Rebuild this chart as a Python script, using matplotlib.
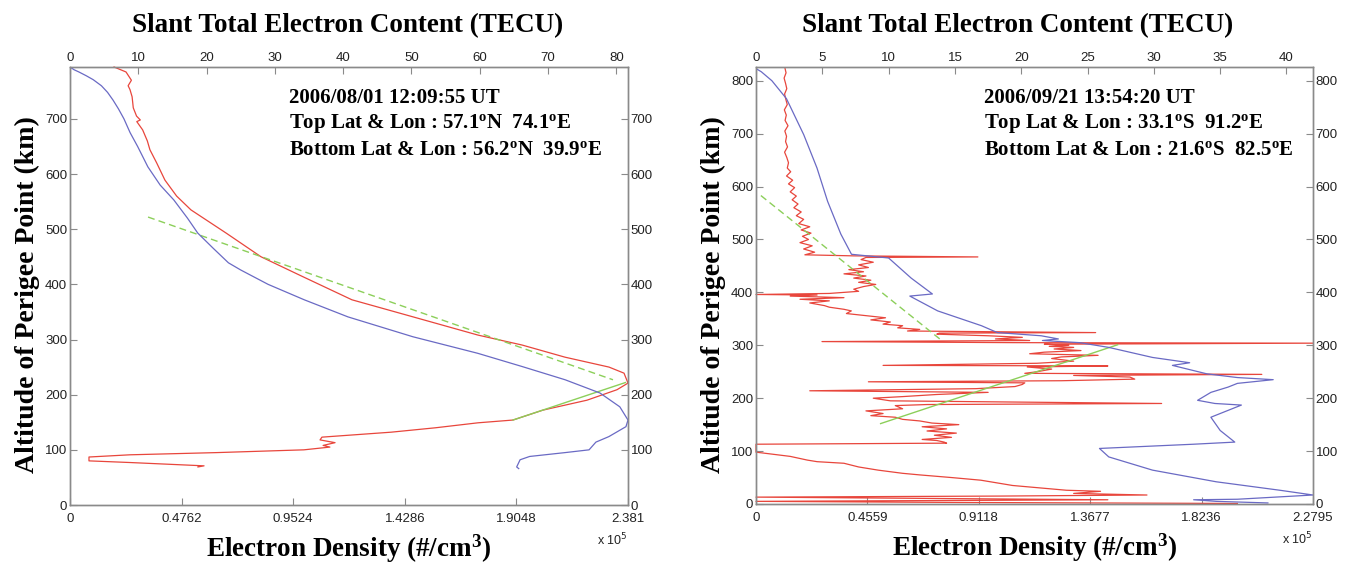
import numpy as np
import matplotlib
matplotlib.use('Agg')
import matplotlib.pyplot as plt

# ---- 2006/08/01 occultation ----
alt_tec_a = [794, 789, 785, 778, 771, 760, 748, 734, 718, 700, 675, 650, 613, 580, 553, 520, 493, 465, 439, 426,
             400, 372, 341, 305, 275, 251, 227, 203, 178, 154, 142, 124, 114, 100, 95, 88, 82, 69, 66]
tec_a = [0.0, 0.6, 1.3, 2.4, 3.4, 4.6, 5.5, 6.3, 7.1, 7.9, 8.8, 9.9, 11.4, 13.2, 15.2, 17.2, 18.7, 21.0, 23.2,
         25.0, 29.0, 34.3, 40.7, 50.2, 59.7, 66.2, 72.5, 77.6, 80.5, 81.7, 81.4, 78.9, 77.0, 76.0, 72.5, 67.3,
         65.9, 65.4, 65.7]

alt_ne_a = [794, 785, 770, 760, 753, 740, 720, 705, 698, 695, 680, 660, 644, 620, 589, 560, 535, 493, 450, 413,
            372, 341, 308, 290, 268, 250, 239, 221, 209, 190, 172, 154, 149, 140, 132, 123, 118, 113, 108, 105,
            100, 95, 91, 87, 80, 77, 71, 69]
ne_a = [0.188, 0.239, 0.262, 0.248, 0.256, 0.265, 0.270, 0.284, 0.300, 0.285, 0.310, 0.330, 0.341, 0.370, 0.405,
        0.455, 0.516, 0.666, 0.815, 0.998, 1.203, 1.464, 1.741, 1.929, 2.112, 2.300, 2.364, 2.381, 2.334, 2.206,
        2.018, 1.890, 1.741, 1.560, 1.370, 1.075, 1.067, 1.131, 1.080, 1.109, 0.998, 0.627, 0.256, 0.081, 0.081,
        0.256, 0.572, 0.546]

fit_top_a = ([0.333, 2.317], [522, 227])
fit_bot_a = ([1.890, 2.370], [154, 222])

# ---- 2006/09/21 occultation ----
alt_tec_b = [823, 817, 800, 766, 698, 635, 572, 510, 472, 465, 427, 397, 393, 365, 337, 324, 318, 312, 309, 305,
             296, 277, 267, 262, 246, 239, 235, 228, 221, 211, 196, 190, 187, 177, 164, 139, 117, 113, 105, 89,
             64, 42, 26, 17, 9, 8, 5, 2]
tec_b = [0.0, 0.4, 1.2, 2.3, 3.6, 4.6, 5.4, 6.4, 7.2, 10.0, 11.7, 13.3, 11.6, 13.7, 17.0, 18.2, 21.5, 22.8, 21.6,
         24.4, 26.6, 29.9, 32.7, 31.4, 34.0, 36.3, 39.0, 36.3, 35.6, 34.3, 33.3, 34.6, 36.6, 35.6, 34.3, 35.0,
         36.1, 33.0, 25.9, 26.6, 29.9, 34.7, 39.5, 42.0, 36.3, 33.0, 34.7, 38.6]

alt_ne_b = [823, 815, 805, 795, 785, 775, 765, 755, 745, 735, 725, 715, 705, 695, 685, 675, 665, 655, 645, 635,
            628, 620, 612, 605, 598, 590, 582, 575, 567, 560, 552, 545, 538, 530, 524, 518, 512, 506, 500, 494,
            488, 482, 476, 471, 469, 467, 466, 462, 457, 452, 447, 443, 439, 435, 431, 427, 423, 419, 415, 411,
            406, 402, 398, 396, 395, 393, 390, 387, 384, 380, 375, 372, 368, 365, 360, 356, 352, 348, 344, 340,
            337, 333, 330, 327, 324, 323, 321, 318, 315, 312, 309, 307, 305, 304, 302, 300, 298, 296, 293, 290,
            287, 284, 281, 278, 275, 270, 266, 262, 261, 259, 255, 250, 247, 245, 243, 240, 236, 233, 231, 229,
            226, 222, 218, 214, 211, 207, 203, 200, 195, 190, 188, 186, 180, 176, 171, 167, 164, 160, 157, 153,
            150, 146, 142, 138, 134, 130, 126, 122, 120, 117, 115, 113, 98, 90, 83, 80, 77, 70, 64, 58,
            55, 50, 45, 35, 28, 26, 24, 20, 17, 15, 13, 10, 8, 6, 5, 3, 1]
ne_b = [0.119, 0.123, 0.115, 0.121, 0.126, 0.117, 0.122, 0.128, 0.116, 0.124, 0.119, 0.131, 0.118, 0.125, 0.121,
        0.129, 0.117, 0.126, 0.133, 0.128, 0.142, 0.125, 0.150, 0.133, 0.158, 0.140, 0.165, 0.148, 0.172, 0.155,
        0.185, 0.165, 0.195, 0.175, 0.220, 0.185, 0.225, 0.190, 0.215, 0.180, 0.230, 0.195, 0.240, 0.200, 0.400,
        0.908, 0.450, 0.430, 0.480, 0.420, 0.460, 0.380, 0.440, 0.360, 0.450, 0.400, 0.470, 0.420, 0.490, 0.440,
        0.400, 0.420, 0.300, 0.000, 0.250, 0.140, 0.360, 0.180, 0.300, 0.220, 0.280, 0.300, 0.360, 0.390, 0.370,
        0.450, 0.530, 0.470, 0.550, 0.520, 0.600, 0.580, 0.670, 0.620, 1.390, 0.750, 0.740, 0.950, 1.090, 0.980,
        1.120, 0.270, 1.050, 2.280, 1.180, 1.280, 1.200, 1.300, 1.220, 1.330, 1.180, 1.120, 1.400, 1.250, 1.210,
        1.300, 1.150, 0.520, 1.440, 1.110, 1.210, 1.150, 1.100, 2.070, 1.300, 1.530, 1.550, 1.250, 0.460, 1.100,
        1.090, 1.060, 0.900, 0.220, 0.950, 0.740, 0.600, 0.480, 0.550, 1.660, 0.700, 0.570, 0.600, 0.450, 0.520,
        0.470, 0.570, 0.600, 0.670, 0.720, 0.830, 0.680, 0.780, 0.700, 0.820, 0.730, 0.800, 0.680, 0.740, 0.770,
        0.780, 0.000, 0.000, 0.140, 0.210, 0.250, 0.360, 0.420, 0.500, 0.600, 0.670, 0.800, 0.920, 1.050, 1.220,
        1.270, 1.410, 1.300, 1.600, 1.000, 0.000, 0.900, 1.440, 0.500, 0.000, 0.800, 1.970]

fit_top_b = ([0.02, 0.76], [583, 309])
fit_bot_b = ([0.51, 1.48], [152, 301])

panels = [
    dict(alt_tec=alt_tec_a, tec=tec_a, alt_ne=alt_ne_a, ne=ne_a, fit_top=fit_top_a, fit_bot=fit_bot_a,
         ne_max=2.381, tec_max=81.7, alt_max=794, yticks=[0, 100, 200, 300, 400, 500, 600, 700],
         tec_ticks=[0, 10, 20, 30, 40, 50, 60, 70, 80],
         lines=['2006/08/01 12:09:55 UT',
                r'Top Lat & Lon : 57.1$^{\mathrm{o}}$N  74.1$^{\mathrm{o}}$E',
                r'Bottom Lat & Lon : 56.2$^{\mathrm{o}}$N  39.9$^{\mathrm{o}}$E'],
         pos=[70, 67, 628, 505], text_x=289, title_x=0.497),
    dict(alt_tec=alt_tec_b, tec=tec_b, alt_ne=alt_ne_b, ne=ne_b, fit_top=fit_top_b, fit_bot=fit_bot_b,
         ne_max=2.2795, tec_max=42.0, alt_max=826, yticks=[0, 100, 200, 300, 400, 500, 600, 700, 800],
         tec_ticks=[0, 5, 10, 15, 20, 25, 30, 35, 40],
         lines=['2006/09/21 13:54:20 UT',
                r'Top Lat & Lon : 33.1$^{\mathrm{o}}$S  91.2$^{\mathrm{o}}$E',
                r'Bottom Lat & Lon : 21.6$^{\mathrm{o}}$S  82.5$^{\mathrm{o}}$E'],
         pos=[756, 67, 1313, 504], text_x=984, title_x=0.47),
]

W, H = 1349, 565
BLUE = '#6a6ac4'
RED = '#e8463c'
GREEN = '#8ccf5a'
FRAME = '#8a8a8a'
SERIF = 'Liberation Serif'
SANS = 'Liberation Sans'


def main():
    plt.rcParams['font.family'] = SANS
    plt.rcParams['mathtext.fontset'] = 'custom'
    plt.rcParams['mathtext.rm'] = SERIF + ':bold'
    plt.rcParams['mathtext.it'] = SERIF + ':bold'
    plt.rcParams['mathtext.bf'] = SERIF + ':bold'

    fig = plt.figure(figsize=(W / 100, H / 100), dpi=100)

    for p in panels:
        x0, y0, x1, y1 = p['pos']
        hgt = y1 - y0
        ax = fig.add_axes([x0 / W, 1 - y1 / H, (x1 - x0) / W, hgt / H])
        ax2 = ax.twiny()

        # electron density on the bottom axis, slant TEC on the top axis
        ax.plot(p['ne'], p['alt_ne'], color=RED, lw=0.9, clip_on=False)
        ax.plot(p['fit_top'][0], p['fit_top'][1], color=GREEN, lw=1.0, ls=(0, (5, 3)))
        ax.plot(p['fit_bot'][0], p['fit_bot'][1], color=GREEN, lw=1.0)
        ax2.plot(p['tec'], p['alt_tec'], color=BLUE, lw=0.9)

        ne_ticks = np.linspace(0, p['ne_max'], 6)
        ax.set_xlim(0, p['ne_max'])
        ax.set_xticks(ne_ticks)
        ax.set_xticklabels(['0'] + ['%g' % round(t, 4) for t in ne_ticks[1:]])
        ax.set_ylim(0, p['alt_max'])
        ax.set_yticks(p['yticks'])
        ax2.set_xlim(0, p['tec_max'])
        ax2.set_xticks(p['tec_ticks'])

        ax.tick_params(direction='in', length=5, width=0.8, color=FRAME, labelsize=9.5,
                       labelcolor='#222222', right=True, labelright=True, pad=2)
        ax.tick_params(axis='x', pad=6)
        ax2.tick_params(direction='in', length=5, width=0.8, color=FRAME, labelsize=9.5,
                        labelcolor='#222222', pad=2)
        for a in (ax, ax2):
            for s in a.spines.values():
                s.set_color(FRAME)
                s.set_linewidth(1.0)

        ax.text(1.0, -27 / hgt, r'x 10$^5$', transform=ax.transAxes, ha='right', va='top',
                fontsize=9, family=SANS, color='#222222', math_fontfamily='dejavusans')

        ax.text(p['title_x'], 1.0 + 41 / hgt, 'Slant Total Electron Content (TECU)',
                transform=ax.transAxes, ha='center', va='center', fontsize=19.5,
                family=SERIF, weight='bold')
        ax.text(0.5, -44 / hgt, 'Electron Density (#/cm$^3$)', transform=ax.transAxes, ha='center',
                va='center', fontsize=19.5, family=SERIF, weight='bold')
        ax.text(-43 / (x1 - x0), 0.48, 'Altitude of Perigee Point (km)', transform=ax.transAxes,
                ha='center', va='center', rotation=90, fontsize=20, family=SERIF, weight='bold')

        for i, line in enumerate(p['lines']):
            fig.text(p['text_x'] / W, 1 - (98 + 26 * i) / H, line, ha='left', va='center',
                     fontsize=15, family=SERIF, weight='bold')

    fig.savefig('out.png', dpi=100, facecolor='white')


if __name__ == "__main__":
    main()
